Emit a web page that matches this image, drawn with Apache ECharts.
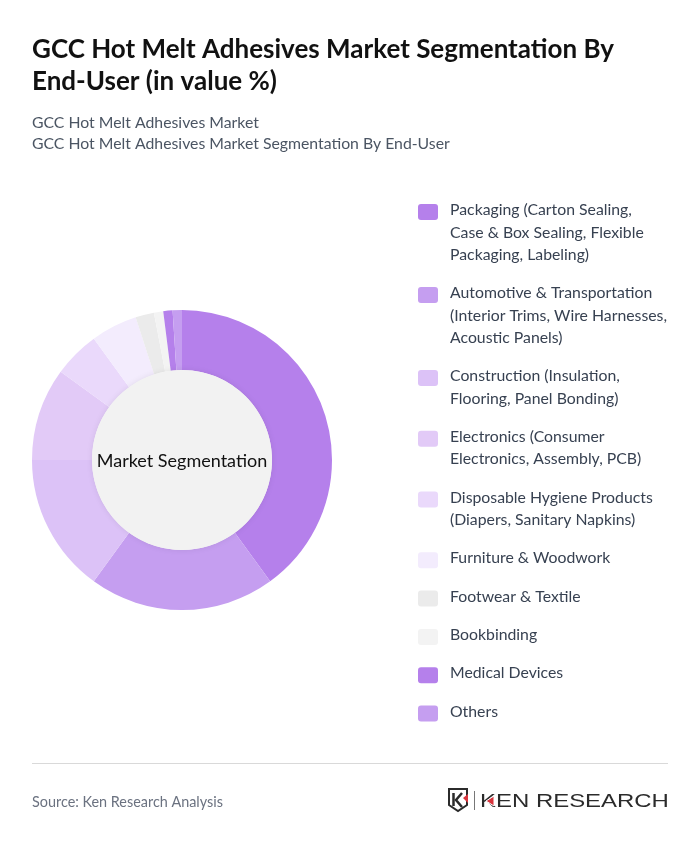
<!DOCTYPE html>
<html>
<head>
<meta charset="utf-8">
<style>
html, body { margin: 0; padding: 0; background: #fff; }
#chart { width: 700px; height: 848px; }
</style>
<script src="https://cdn.jsdelivr.net/npm/echarts@6/dist/echarts.min.js"></script>
</head>
<body>
<div id="chart"></div>
<script>
var titleLines = ['GCC Hot Melt Adhesives Market Segmentation By', 'End-User (in value %)'];
var subtitleLines = ['GCC Hot Melt Adhesives Market', 'GCC Hot Melt Adhesives Market Segmentation By End-User'];
var centerLabel = 'Market Segmentation';
var sourceText = 'Source: Ken Research Analysis';

var categories = [
	'Packaging (Carton Sealing,\nCase & Box Sealing, Flexible\nPackaging, Labeling)',
	'Automotive & Transportation\n(Interior Trims, Wire Harnesses,\nAcoustic Panels)',
	'Construction (Insulation,\nFlooring, Panel Bonding)',
	'Electronics (Consumer\nElectronics, Assembly, PCB)',
	'Disposable Hygiene Products\n(Diapers, Sanitary Napkins)',
	'Furniture & Woodwork',
	'Footwear & Textile',
	'Bookbinding',
	'Medical Devices',
	'Others'
];
var shares = [40, 20, 15, 10, 5, 5, 2, 1, 1, 1];
var sliceColors = ['#b580eb', '#c59ef0', '#dcc2f7', '#e2caf7', '#ead9fb', '#f3ecfd', '#ebebeb', '#f3f3f3', '#b580eb', '#c59ef0'];

var myChart = echarts.init(document.getElementById('chart'), null, { renderer: 'canvas' });
var FONT = 'Lato, "Noto Sans", sans-serif';

var graphics = [];

function addText(x, y, text, size, color, weight, align) {
	graphics.push({
		type: 'text', x: x, y: y, silent: true,
		style: {
			text: text, fill: color, font: (weight || 'normal') + ' ' + size + 'px ' + FONT,
			textAlign: align || 'left', textVerticalAlign: 'middle'
		}
	});
}

// 标题
addText(32, 50, titleLines[0], 26, '#111111', 'bold');
addText(32, 82, titleLines[1], 26, '#111111', 'bold');
addText(32, 123, subtitleLines[0], 15.8, '#4b5563');
addText(32, 144, subtitleLines[1], 15.8, '#4b5563');

// 图例
var legendY = 210;
for (var i = 0; i < categories.length; i++) {
	var lines = categories[i].split('\n');
	graphics.push({
		type: 'rect', silent: true,
		shape: { x: 418, y: legendY - 6, width: 20, height: 16, r: 3 },
		style: { fill: sliceColors[i] }
	});
	for (var j = 0; j < lines.length; j++) {
		addText(450, legendY + j * 22.4, lines[j], 15.8, '#374151');
	}
	legendY += lines.length * 22.35 + 16;
}

// 底部
graphics.push({
	type: 'line', silent: true,
	shape: { x1: 32, y1: 763.5, x2: 668, y2: 763.5 },
	style: { stroke: '#d9d9d9', lineWidth: 1 }
});
addText(32, 802, sourceText, 14.4, '#6b7280');

// logo
graphics.push({
	type: 'polygon', silent: true,
	shape: { points: [[449, 789], [467, 789], [467, 805], [458, 811], [449, 805]] },
	style: { fill: '#fff', stroke: '#2b2b2b', lineWidth: 2 }
});
graphics.push({
	type: 'polyline', silent: true,
	shape: { points: [[453.5, 793], [453.5, 806]] },
	style: { stroke: '#2b2b2b', lineWidth: 2.5, fill: null }
});
graphics.push({
	type: 'polyline', silent: true,
	shape: { points: [[462, 793], [456, 800], [462, 807]] },
	style: { stroke: '#2b2b2b', lineWidth: 2.5, fill: null }
});
graphics.push({
	type: 'polygon', silent: true,
	shape: { points: [[463, 798], [468, 794], [468, 803]] },
	style: { fill: '#d8343c' }
});
graphics.push({
	type: 'line', silent: true,
	shape: { x1: 474.5, y1: 791, x2: 474.5, y2: 810 },
	style: { stroke: '#777', lineWidth: 1 }
});
graphics.push({
	type: 'text', x: 480, y: 802, scaleX: 1.33, silent: true,
	style: {
		text: 'KEN RESEARCH', fill: '#2b2b2b', font: 'normal 18px "Liberation Sans", sans-serif',
		textAlign: 'left', textVerticalAlign: 'middle'
	}
});
graphics.push({
	type: 'polygon', silent: true,
	shape: { points: [[486, 801], [494, 796], [494, 806]] },
	style: { fill: '#d8343c', stroke: '#fff', lineWidth: 1 }
});

var option = {
	animation: false,
	backgroundColor: '#fff',
	series: [
		{
			type: 'pie',
			center: [182, 460],
			radius: [90, 150],
			startAngle: 90,
			clockwise: true,
			silent: true,
			label: { show: false },
			labelLine: { show: false },
			itemStyle: { borderWidth: 0 },
			data: categories.map(function(name, idx) {
				return { name: name, value: shares[idx], itemStyle: { color: sliceColors[idx] } };
			})
		},
		// 中心圆
		{
			type: 'pie',
			center: [182, 460],
			radius: [0, 90],
			silent: true,
			z: 3,
			label: {
				show: true, position: 'center', formatter: centerLabel,
				fontFamily: FONT, fontSize: 18, color: '#111', offset: [0, 1]
			},
			labelLine: { show: false },
			itemStyle: { color: '#f2f2f2', shadowBlur: 6, shadowColor: 'rgba(0,0,0,0.08)' },
			data: [{ name: centerLabel, value: 1 }]
		}
	],
	graphic: graphics
};
myChart.setOption(option);
</script>
</body>
</html>
